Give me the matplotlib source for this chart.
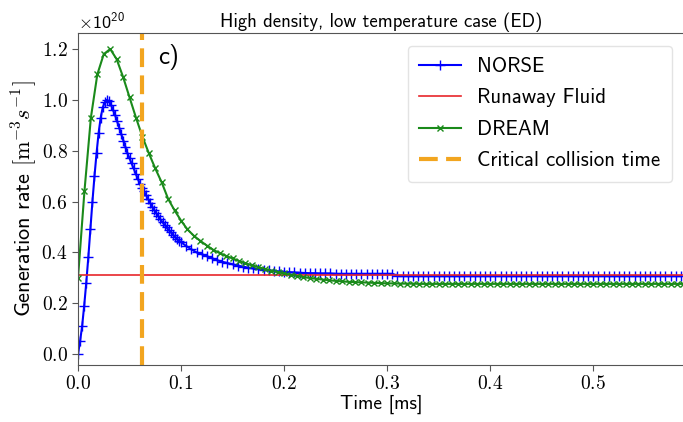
import matplotlib
import numpy as np

matplotlib.use("Agg")
import matplotlib.pyplot as plt

# --- Data (values in units of 1e20 m^-3 s^-1, time in ms) ---
NORSE_T_EARLY = np.round(np.arange(0.0, 0.1, 0.002), 4)
NORSE_EARLY = [
    0.00, 0.05, 0.11, 0.19, 0.28, 0.38, 0.49, 0.60, 0.70, 0.79,
    0.87, 0.93, 0.97, 0.99, 1.00, 0.995, 0.98, 0.96, 0.94, 0.915,
    0.89, 0.865, 0.84, 0.815, 0.79, 0.77, 0.75, 0.73, 0.71, 0.69,
    0.67, 0.655, 0.64, 0.625, 0.61, 0.595, 0.58, 0.567, 0.554, 0.542,
    0.53, 0.519, 0.508, 0.498, 0.488, 0.479, 0.47, 0.462, 0.454, 0.446,
]
NORSE_T_LATE = np.round(np.arange(0.1, 0.5875, 0.005), 4)
NORSE_LATE = [
    0.44, 0.425, 0.412, 0.40, 0.393, 0.385, 0.377, 0.369, 0.363, 0.358,
    0.353, 0.348, 0.344, 0.340, 0.337, 0.334, 0.331, 0.329, 0.327, 0.325,
    0.324, 0.322, 0.321, 0.320, 0.319, 0.318, 0.318, 0.317, 0.317, 0.317,
    0.316, 0.316, 0.316, 0.316, 0.316, 0.316, 0.316, 0.316, 0.316, 0.316,
    0.316, 0.316, 0.307, 0.307, 0.307, 0.307, 0.307, 0.307, 0.307, 0.307,
    0.307, 0.307, 0.307, 0.307, 0.307, 0.307, 0.307, 0.307, 0.307, 0.307,
    0.307, 0.307, 0.307, 0.307, 0.307, 0.307, 0.307, 0.307, 0.307, 0.307,
    0.307, 0.307, 0.307, 0.307, 0.307, 0.307, 0.307, 0.307, 0.307, 0.307,
    0.307, 0.307, 0.307, 0.307, 0.307, 0.307, 0.307, 0.307, 0.307, 0.307,
    0.307, 0.307, 0.307, 0.307, 0.307, 0.307, 0.307, 0.307,
]

DREAM_T = np.round(np.arange(0.0, 0.59, 0.00625), 5)
DREAM = [
    0.30, 0.64, 0.93, 1.10, 1.18, 1.20, 1.16, 1.09, 1.01, 0.93,
    0.855, 0.79, 0.73, 0.675, 0.61, 0.565, 0.525, 0.49, 0.465, 0.445,
    0.427, 0.41, 0.397, 0.386, 0.376, 0.366, 0.357, 0.349, 0.342, 0.335,
    0.328, 0.322, 0.317, 0.312, 0.307, 0.303, 0.299, 0.296, 0.293, 0.29,
    0.288, 0.286, 0.284, 0.283, 0.282, 0.281, 0.28, 0.279, 0.278, 0.278,
    0.277, 0.277, 0.277, 0.276, 0.276, 0.276, 0.276, 0.276, 0.276, 0.276,
    0.276, 0.276, 0.276, 0.276, 0.276, 0.276, 0.276, 0.276, 0.276, 0.276,
    0.276, 0.276, 0.276, 0.276, 0.276, 0.276, 0.276, 0.276, 0.276, 0.276,
    0.276, 0.276, 0.276, 0.276, 0.276, 0.276, 0.276, 0.276, 0.276, 0.276,
    0.276, 0.276, 0.276, 0.276, 0.276,
]

FLUID_RATE = 0.312
CRIT_TIME = 0.062
SCALE = 1e20

plt.rcParams["mathtext.fontset"] = "cm"
plt.rcParams["axes.formatter.use_mathtext"] = True
plt.rcParams["axes.unicode_minus"] = False
plt.rcParams["font.family"] = ["cmss10", "DejaVu Sans"]

fig = plt.figure(figsize=(6.83, 4.22), dpi=100)
ax = fig.add_axes([0.1142, 0.1351, 0.888, 0.7867])

norse_t = np.concatenate([NORSE_T_EARLY, NORSE_T_LATE])
norse = np.array(NORSE_EARLY + NORSE_LATE) * SCALE
dream = np.array(DREAM[: len(DREAM_T)]) * SCALE

ax.plot(norse_t, norse, color="b", marker="+", markersize=7, lw=1.5, label="NORSE")
ax.axhline(FLUID_RATE * SCALE, color="#e8262b", lw=1.2, label="Runaway Fluid")
ax.plot(DREAM_T, dream, color="#1a8a1a", marker="x", markersize=5, lw=1.5, label="DREAM")
ax.axvline(CRIT_TIME, color="#f2a51f", lw=3, ls=(0, (4.5, 2)), label="Critical collision time")

ax.set_xlim(0, 0.5885)
ax.set_ylim(-0.043 * SCALE, 1.263 * SCALE)
ax.set_xticks([0.0, 0.1, 0.2, 0.3, 0.4, 0.5])
ax.set_yticks(np.array([0.0, 0.2, 0.4, 0.6, 0.8, 1.0, 1.2]) * SCALE)

for lab in ax.get_xticklabels() + ax.get_yticklabels():
    lab.set_fontfamily("cmr10")
    lab.set_fontsize(14)
ax.yaxis.get_offset_text().set_fontsize(13)
ax.tick_params(length=4, color="#555555", direction="out")
for sp in ax.spines.values():
    sp.set_color("#555555")

ax.set_xlabel("Time [ms]", fontsize=14, labelpad=1)
ax.set_ylabel(r"Generation rate $[\mathrm{m}^{-3}s^{-1}]$", fontsize=16, labelpad=2)
ax.set_title("High density, low temperature case (ED)", fontsize=13.5, pad=4)
ax.text(0.078, 1.14 * SCALE, "c)", fontsize=18)

ax.legend(loc="upper right", fontsize=15, framealpha=0.8, edgecolor="#dddddd",
          handlelength=2.0, borderpad=0.55, labelspacing=0.6, borderaxespad=0.6)

fig.savefig("out.png", dpi=100, facecolor="white")
